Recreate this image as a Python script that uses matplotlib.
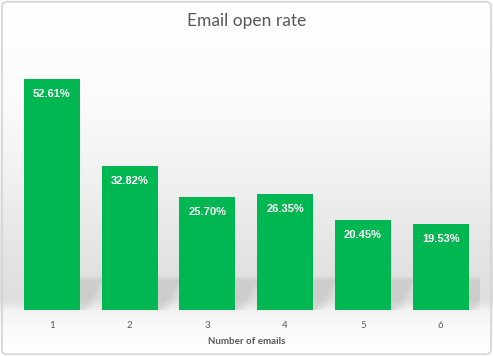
import matplotlib.pyplot as plt
import numpy as np
from matplotlib.patches import FancyBboxPatch, Polygon
from matplotlib.colors import LinearSegmentedColormap

emails = ['1', '2', '3', '4', '5', '6']
open_rate = [52.61, 32.82, 25.70, 26.35, 20.45, 19.53]

green = '#00b752'
grey_txt = '#595959'

fig = plt.figure(figsize=(4.93, 3.56), dpi=100)

# background gradient (white top, grey floor, white under the bars)
bg = fig.add_axes([0, 0, 1, 1], zorder=-10)
stops = [(0.0, '#ffffff'), (0.28, '#fbfbfb'), (0.5, '#f1f1f1'),
         (0.70, '#e5e5e5'), (0.845, '#dedede'), (0.875, '#f3f3f3'),
         (0.93, '#fbfbfb'), (1.0, '#ffffff')]
cmap = LinearSegmentedColormap.from_list('bg', stops)
grad = np.linspace(0, 1, 356).reshape(-1, 1)
bg.imshow(grad, aspect='auto', cmap=cmap, extent=[0, 1, 0, 1], origin='upper')
bg.set_xlim(0, 1)
bg.set_ylim(0, 1)
bg.axis('off')
bg.add_patch(FancyBboxPatch((0.004, 0.005), 0.992, 0.99,
                            boxstyle='round,pad=0,rounding_size=0.012',
                            transform=bg.transAxes, fill=False,
                            edgecolor='#d4d4d4', lw=1.2))

ax = fig.add_axes([0.026, 0.129, 0.947, 0.74])
ax.set_facecolor('none')
x = np.arange(len(emails))
w = 0.72

# soft cast shadows behind bars
for xi, h in zip(x, open_rate):
    hs = min(h, 10.0)
    for k, a in enumerate([0.04, 0.05, 0.06]):
        d = 0.05 * (2 - k)
        pts = [(xi - w / 2, 0), (xi + w / 2 + 0.05 + d, 0),
               (xi + w / 2 + 0.3 + d, hs - 3 + d * 8), (xi - w / 2 + 0.3, hs - 3 + d * 8),
               (xi - w / 2 + 0.1, hs + d * 8)]
        ax.add_patch(Polygon(pts, closed=True, facecolor='#6a6a6a',
                             edgecolor='none', alpha=a, zorder=1))

bars = ax.bar(x, open_rate, width=w, color=green, zorder=3)
for xi, h in zip(x, open_rate):
    ax.annotate(f'{h:.2f}%', (xi, h), xytext=(0, -10.5), textcoords='offset points',
                ha='center', va='center', color='white', fontsize=8,
                fontweight='bold', family='Liberation Sans', zorder=4)

ax.set_xlim(-0.5, 5.5)
ax.set_ylim(0, 60)
ax.set_xticks(x)
ax.set_xticklabels(emails, color=grey_txt, fontsize=7, family='Lato')
ax.tick_params(axis='x', length=0, pad=8)
ax.set_yticks([])
for s in ax.spines.values():
    s.set_visible(False)
ax.set_xlabel('Number of emails', color=grey_txt, fontsize=7,
              family='Lato', fontweight='bold', labelpad=5)

fig.text(0.5, 0.94, 'Email open rate', ha='center', va='center',
         color=grey_txt, fontsize=12.5, family='Lato')

plt.savefig('out.png', dpi=100)
